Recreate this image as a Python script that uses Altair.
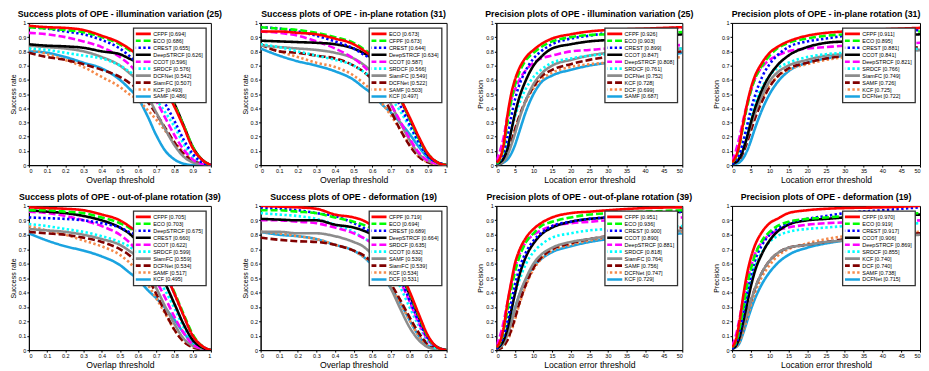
import altair as alt
import pandas as pd

# x sample positions
SX = [0, 0.1, 0.2, 0.3, 0.4, 0.5, 0.55, 0.6, 0.65, 0.7, 0.75, 0.8, 0.85, 0.9, 0.95, 1.0]
PX = [0, 1, 2, 3, 4, 5, 6, 8, 10, 12, 15, 20, 25, 30, 40, 50]

COLORS = ["#FF0000", "#00FF00", "#0000FF", "#000000", "#FF00FF",
          "#00FFFF", "#8C8C8C", "#800000", "#F58A4B", "#1AA3E0"]
DASHES = [[1, 0], [7, 3], [2.4, 2.4], [1, 0], [7, 3],
          [2.4, 2.4], [1, 0], [7, 3], [2.4, 2.4], [1, 0]]

# ---- Panel 1: success, illumination variation
p1_title = "Success plots of OPE - illumination variation (25)"
p1_names = ["CFPF", "ECO", "CREST", "DeepSTRCF", "CCOT", "SRDCF", "DCFNet", "SiamFC", "KCF", "SAMF"]
p1_scores = ["0.694", "0.686", "0.655", "0.626", "0.596", "0.576", "0.542", "0.507", "0.493", "0.486"]
p1_curves = [
    [0.98, 0.97, 0.965, 0.95, 0.91, 0.86, 0.82, 0.77, 0.71, 0.63, 0.53, 0.41, 0.27, 0.12, 0.04, 0.0],
    [0.97, 0.96, 0.95, 0.935, 0.9, 0.85, 0.81, 0.76, 0.70, 0.62, 0.53, 0.42, 0.28, 0.13, 0.04, 0.0],
    [0.97, 0.96, 0.94, 0.92, 0.88, 0.82, 0.77, 0.71, 0.63, 0.54, 0.43, 0.31, 0.18, 0.08, 0.02, 0.0],
    [0.85, 0.84, 0.835, 0.825, 0.80, 0.78, 0.75, 0.72, 0.68, 0.62, 0.54, 0.43, 0.28, 0.13, 0.04, 0.0],
    [0.93, 0.92, 0.90, 0.87, 0.83, 0.76, 0.71, 0.64, 0.55, 0.45, 0.33, 0.21, 0.11, 0.04, 0.01, 0.0],
    [0.82, 0.81, 0.79, 0.77, 0.75, 0.70, 0.66, 0.61, 0.54, 0.46, 0.37, 0.27, 0.15, 0.06, 0.02, 0.0],
    [0.84, 0.83, 0.82, 0.80, 0.76, 0.70, 0.65, 0.59, 0.49, 0.37, 0.25, 0.14, 0.06, 0.02, 0.005, 0.0],
    [0.79, 0.76, 0.74, 0.71, 0.67, 0.62, 0.58, 0.53, 0.45, 0.36, 0.26, 0.16, 0.08, 0.03, 0.01, 0.0],
    [0.82, 0.78, 0.74, 0.69, 0.62, 0.55, 0.50, 0.46, 0.39, 0.32, 0.24, 0.16, 0.09, 0.04, 0.01, 0.0],
    [0.80, 0.79, 0.76, 0.72, 0.68, 0.60, 0.54, 0.47, 0.35, 0.21, 0.10, 0.04, 0.01, 0.0, 0.0, 0.0],
]

# ---- Panel 2: success, in-plane rotation
p2_title = "Success plots of OPE - in-plane rotation (31)"
p2_names = ["ECO", "CFPF", "CREST", "DeepSTRCF", "CCOT", "SRDCF", "SiamFC", "DCFNet", "SAMF", "KCF"]
p2_scores = ["0.673", "0.673", "0.644", "0.634", "0.587", "0.566", "0.549", "0.522", "0.503", "0.497"]
p2_curves = [
    [0.94, 0.94, 0.93, 0.92, 0.89, 0.85, 0.81, 0.76, 0.68, 0.58, 0.47, 0.34, 0.20, 0.08, 0.02, 0.0],
    [0.97, 0.96, 0.95, 0.93, 0.90, 0.86, 0.82, 0.77, 0.69, 0.59, 0.47, 0.33, 0.19, 0.08, 0.02, 0.0],
    [0.97, 0.96, 0.94, 0.91, 0.87, 0.82, 0.78, 0.74, 0.65, 0.54, 0.42, 0.29, 0.16, 0.06, 0.02, 0.0],
    [0.875, 0.87, 0.865, 0.86, 0.85, 0.82, 0.79, 0.75, 0.68, 0.59, 0.47, 0.33, 0.19, 0.07, 0.02, 0.0],
    [0.94, 0.93, 0.91, 0.87, 0.82, 0.75, 0.70, 0.63, 0.54, 0.43, 0.31, 0.19, 0.09, 0.03, 0.01, 0.0],
    [0.85, 0.83, 0.80, 0.77, 0.74, 0.70, 0.66, 0.61, 0.55, 0.47, 0.38, 0.27, 0.15, 0.06, 0.02, 0.0],
    [0.84, 0.83, 0.82, 0.81, 0.79, 0.75, 0.71, 0.65, 0.55, 0.43, 0.30, 0.18, 0.08, 0.03, 0.01, 0.0],
    [0.85, 0.80, 0.79, 0.77, 0.75, 0.70, 0.66, 0.60, 0.50, 0.38, 0.25, 0.14, 0.06, 0.02, 0.005, 0.0],
    [0.85, 0.80, 0.76, 0.72, 0.69, 0.63, 0.58, 0.52, 0.44, 0.35, 0.25, 0.15, 0.06, 0.02, 0.005, 0.0],
    [0.82, 0.77, 0.73, 0.70, 0.66, 0.60, 0.55, 0.50, 0.43, 0.37, 0.30, 0.22, 0.13, 0.05, 0.01, 0.0],
]

# ---- Panel 3: precision, illumination variation
p3_title = "Precision plots of OPE - illumination variation (25)"
p3_names = ["CFPF", "ECO", "CREST", "CCOT", "DeepSTRCF", "SRDCF", "DCFNet", "KCF", "DCF", "SAMF"]
p3_scores = ["0.926", "0.903", "0.899", "0.847", "0.808", "0.761", "0.752", "0.728", "0.699", "0.687"]
p3_curves = [
    [0.02, 0.05, 0.15, 0.35, 0.50, 0.60, 0.67, 0.76, 0.81, 0.85, 0.89, 0.92, 0.94, 0.95, 0.96, 0.97],
    [0.01, 0.04, 0.13, 0.30, 0.45, 0.56, 0.64, 0.74, 0.79, 0.83, 0.87, 0.90, 0.915, 0.92, 0.93, 0.935],
    [0.01, 0.03, 0.09, 0.20, 0.34, 0.46, 0.55, 0.67, 0.75, 0.80, 0.85, 0.89, 0.91, 0.93, 0.95, 0.97],
    [0.01, 0.02, 0.05, 0.12, 0.24, 0.36, 0.46, 0.60, 0.70, 0.76, 0.82, 0.85, 0.87, 0.88, 0.90, 0.92],
    [0.03, 0.10, 0.20, 0.35, 0.46, 0.53, 0.59, 0.67, 0.72, 0.75, 0.77, 0.80, 0.81, 0.82, 0.83, 0.845],
    [0.01, 0.02, 0.06, 0.14, 0.24, 0.34, 0.42, 0.54, 0.62, 0.67, 0.72, 0.75, 0.77, 0.78, 0.80, 0.82],
    [0.0, 0.01, 0.03, 0.07, 0.14, 0.22, 0.31, 0.46, 0.57, 0.64, 0.70, 0.74, 0.77, 0.79, 0.81, 0.82],
    [0.0, 0.01, 0.03, 0.08, 0.16, 0.25, 0.33, 0.46, 0.55, 0.62, 0.67, 0.71, 0.74, 0.76, 0.78, 0.80],
    [0.0, 0.01, 0.03, 0.08, 0.15, 0.24, 0.32, 0.45, 0.54, 0.60, 0.65, 0.69, 0.71, 0.72, 0.74, 0.76],
    [0.0, 0.005, 0.02, 0.04, 0.08, 0.14, 0.22, 0.38, 0.50, 0.58, 0.63, 0.67, 0.70, 0.72, 0.75, 0.79],
]

# ---- Panel 4: precision, in-plane rotation
p4_title = "Precision plots of OPE - in-plane rotation (31)"
p4_names = ["CFPF", "ECO", "CREST", "CCOT", "DeepSTRCF", "SRDCF", "SiamFC", "SAMF", "KCF", "DCFNet"]
p4_scores = ["0.911", "0.895", "0.881", "0.841", "0.821", "0.766", "0.749", "0.726", "0.725", "0.722"]
p4_curves = [
    [0.02, 0.06, 0.15, 0.30, 0.43, 0.54, 0.62, 0.72, 0.79, 0.83, 0.87, 0.91, 0.93, 0.94, 0.955, 0.965],
    [0.02, 0.05, 0.14, 0.28, 0.41, 0.52, 0.60, 0.70, 0.77, 0.82, 0.86, 0.89, 0.91, 0.92, 0.93, 0.94],
    [0.01, 0.03, 0.08, 0.17, 0.28, 0.39, 0.48, 0.62, 0.71, 0.77, 0.83, 0.87, 0.89, 0.91, 0.93, 0.95],
    [0.01, 0.02, 0.05, 0.11, 0.20, 0.30, 0.39, 0.53, 0.63, 0.70, 0.77, 0.83, 0.86, 0.87, 0.90, 0.92],
    [0.03, 0.10, 0.20, 0.32, 0.43, 0.52, 0.60, 0.69, 0.74, 0.77, 0.80, 0.82, 0.83, 0.84, 0.85, 0.86],
    [0.01, 0.03, 0.08, 0.16, 0.26, 0.35, 0.43, 0.55, 0.63, 0.68, 0.72, 0.76, 0.78, 0.79, 0.80, 0.82],
    [0.01, 0.02, 0.05, 0.11, 0.19, 0.28, 0.36, 0.49, 0.59, 0.65, 0.70, 0.74, 0.77, 0.78, 0.80, 0.81],
    [0.01, 0.02, 0.04, 0.09, 0.16, 0.24, 0.32, 0.45, 0.55, 0.62, 0.68, 0.72, 0.75, 0.77, 0.80, 0.83],
    [0.01, 0.02, 0.05, 0.11, 0.19, 0.27, 0.35, 0.47, 0.56, 0.62, 0.67, 0.71, 0.74, 0.76, 0.79, 0.81],
    [0.0, 0.01, 0.02, 0.05, 0.10, 0.17, 0.25, 0.39, 0.50, 0.58, 0.66, 0.72, 0.75, 0.77, 0.79, 0.81],
]

# ---- Panel 5: success, out-of-plane rotation
p5_title = "Success plots of OPE - out-of-plane rotation (39)"
p5_names = ["CFPF", "ECO", "DeepSTRCF", "CREST", "CCOT", "SRDCF", "SiamFC", "DCFNet", "SAMF", "KCF"]
p5_scores = ["0.705", "0.703", "0.675", "0.660", "0.622", "0.599", "0.559", "0.534", "0.517", "0.495"]
p5_curves = [
    [0.99, 0.985, 0.98, 0.97, 0.94, 0.90, 0.86, 0.81, 0.74, 0.65, 0.53, 0.39, 0.24, 0.10, 0.03, 0.0],
    [0.97, 0.97, 0.96, 0.95, 0.92, 0.88, 0.85, 0.80, 0.74, 0.65, 0.54, 0.40, 0.25, 0.11, 0.03, 0.0],
    [0.92, 0.915, 0.91, 0.90, 0.88, 0.85, 0.82, 0.79, 0.73, 0.65, 0.53, 0.39, 0.24, 0.10, 0.03, 0.0],
    [0.97, 0.96, 0.95, 0.93, 0.90, 0.85, 0.81, 0.75, 0.68, 0.58, 0.46, 0.32, 0.18, 0.07, 0.02, 0.0],
    [0.96, 0.95, 0.93, 0.90, 0.86, 0.80, 0.75, 0.68, 0.59, 0.48, 0.36, 0.23, 0.12, 0.04, 0.01, 0.0],
    [0.875, 0.86, 0.84, 0.82, 0.79, 0.75, 0.72, 0.67, 0.60, 0.51, 0.41, 0.29, 0.16, 0.06, 0.02, 0.0],
    [0.84, 0.83, 0.82, 0.80, 0.77, 0.73, 0.69, 0.64, 0.55, 0.43, 0.30, 0.18, 0.08, 0.03, 0.01, 0.0],
    [0.82, 0.81, 0.80, 0.78, 0.75, 0.70, 0.66, 0.60, 0.51, 0.39, 0.26, 0.14, 0.06, 0.02, 0.005, 0.0],
    [0.86, 0.83, 0.80, 0.76, 0.72, 0.66, 0.61, 0.54, 0.46, 0.36, 0.25, 0.14, 0.06, 0.02, 0.005, 0.0],
    [0.81, 0.76, 0.72, 0.69, 0.65, 0.59, 0.54, 0.49, 0.42, 0.36, 0.29, 0.21, 0.12, 0.05, 0.01, 0.0],
]

# ---- Panel 6: success, deformation
p6_title = "Success plots of OPE - deformation (19)"
p6_names = ["CFPF", "ECO", "CREST", "DeepSTRCF", "SRDCF", "CCOT", "SAMF", "SiamFC", "KCF", "DCF"]
p6_scores = ["0.719", "0.694", "0.689", "0.664", "0.635", "0.632", "0.539", "0.539", "0.534", "0.531"]
p6_curves = [
    [1.0, 0.995, 0.99, 0.98, 0.94, 0.92, 0.90, 0.86, 0.79, 0.68, 0.55, 0.41, 0.25, 0.10, 0.02, 0.0],
    [0.97, 0.97, 0.96, 0.95, 0.92, 0.89, 0.87, 0.84, 0.77, 0.67, 0.54, 0.40, 0.24, 0.09, 0.02, 0.0],
    [0.99, 0.98, 0.97, 0.95, 0.93, 0.88, 0.85, 0.81, 0.74, 0.63, 0.50, 0.35, 0.20, 0.08, 0.02, 0.0],
    [0.91, 0.905, 0.90, 0.90, 0.87, 0.85, 0.83, 0.80, 0.74, 0.65, 0.53, 0.39, 0.23, 0.09, 0.02, 0.0],
    [0.90, 0.90, 0.89, 0.88, 0.85, 0.81, 0.78, 0.74, 0.68, 0.59, 0.48, 0.34, 0.19, 0.07, 0.02, 0.0],
    [0.95, 0.94, 0.93, 0.91, 0.87, 0.82, 0.78, 0.74, 0.66, 0.56, 0.44, 0.30, 0.17, 0.06, 0.01, 0.0],
    [0.82, 0.82, 0.81, 0.81, 0.79, 0.75, 0.72, 0.66, 0.56, 0.43, 0.29, 0.16, 0.07, 0.02, 0.005, 0.0],
    [0.78, 0.765, 0.755, 0.75, 0.73, 0.69, 0.66, 0.61, 0.55, 0.46, 0.35, 0.23, 0.12, 0.04, 0.01, 0.0],
    [0.82, 0.81, 0.79, 0.77, 0.73, 0.69, 0.65, 0.60, 0.53, 0.44, 0.33, 0.21, 0.10, 0.03, 0.01, 0.0],
    [0.82, 0.80, 0.79, 0.77, 0.73, 0.69, 0.65, 0.59, 0.52, 0.43, 0.33, 0.21, 0.10, 0.03, 0.01, 0.0],
]

# ---- Panel 7: precision, out-of-plane rotation
p7_title = "Precision plots of OPE - out-of-plane rotation (39)"
p7_names = ["CFPF", "ECO", "CREST", "CCOT", "DeepSTRCF", "SRDCF", "SiamFC", "SAMF", "DCFNet", "KCF"]
p7_scores = ["0.951", "0.936", "0.900", "0.890", "0.881", "0.818", "0.764", "0.756", "0.747", "0.729"]
p7_curves = [
    [0.02, 0.06, 0.16, 0.33, 0.47, 0.60, 0.68, 0.78, 0.84, 0.88, 0.92, 0.95, 0.96, 0.97, 0.985, 0.99],
    [0.02, 0.05, 0.14, 0.28, 0.42, 0.54, 0.63, 0.75, 0.81, 0.86, 0.89, 0.92, 0.94, 0.95, 0.96, 0.97],
    [0.01, 0.04, 0.10, 0.20, 0.33, 0.45, 0.55, 0.68, 0.76, 0.81, 0.86, 0.89, 0.91, 0.92, 0.94, 0.96],
    [0.01, 0.03, 0.07, 0.15, 0.27, 0.39, 0.50, 0.65, 0.74, 0.80, 0.85, 0.89, 0.91, 0.92, 0.94, 0.96],
    [0.03, 0.10, 0.20, 0.33, 0.46, 0.57, 0.65, 0.75, 0.80, 0.83, 0.86, 0.88, 0.89, 0.90, 0.91, 0.92],
    [0.01, 0.04, 0.10, 0.19, 0.29, 0.39, 0.47, 0.60, 0.68, 0.73, 0.78, 0.81, 0.83, 0.84, 0.85, 0.86],
    [0.01, 0.02, 0.05, 0.11, 0.19, 0.28, 0.37, 0.50, 0.60, 0.66, 0.71, 0.75, 0.77, 0.79, 0.81, 0.83],
    [0.0, 0.01, 0.03, 0.07, 0.14, 0.22, 0.31, 0.46, 0.57, 0.64, 0.70, 0.74, 0.77, 0.79, 0.82, 0.85],
    [0.0, 0.01, 0.03, 0.07, 0.13, 0.21, 0.30, 0.45, 0.56, 0.63, 0.69, 0.73, 0.76, 0.78, 0.80, 0.82],
    [0.01, 0.02, 0.05, 0.12, 0.20, 0.29, 0.37, 0.49, 0.58, 0.63, 0.68, 0.72, 0.75, 0.77, 0.79, 0.81],
]

# ---- Panel 8: precision, deformation
p8_title = "Precision plots of OPE - deformation (19)"
p8_names = ["CFPF", "ECO", "CREST", "CCOT", "DeepSTRCF", "SRDCF", "KCF", "DCF", "SAMF", "DCFNet"]
p8_scores = ["0.970", "0.919", "0.917", "0.906", "0.869", "0.855", "0.740", "0.740", "0.738", "0.715"]
p8_curves = [
    [0.02, 0.07, 0.20, 0.38, 0.53, 0.64, 0.72, 0.82, 0.88, 0.91, 0.95, 0.97, 0.98, 0.985, 0.99, 1.0],
    [0.02, 0.05, 0.15, 0.30, 0.45, 0.56, 0.65, 0.76, 0.82, 0.86, 0.89, 0.91, 0.92, 0.93, 0.94, 0.95],
    [0.01, 0.04, 0.12, 0.25, 0.39, 0.51, 0.61, 0.73, 0.80, 0.84, 0.88, 0.91, 0.93, 0.95, 0.97, 0.99],
    [0.01, 0.03, 0.09, 0.20, 0.32, 0.44, 0.54, 0.67, 0.76, 0.82, 0.87, 0.90, 0.91, 0.92, 0.93, 0.94],
    [0.03, 0.10, 0.22, 0.36, 0.48, 0.58, 0.66, 0.75, 0.80, 0.83, 0.85, 0.87, 0.88, 0.885, 0.89, 0.90],
    [0.02, 0.06, 0.14, 0.26, 0.38, 0.48, 0.57, 0.68, 0.75, 0.79, 0.82, 0.84, 0.85, 0.86, 0.87, 0.88],
    [0.01, 0.03, 0.08, 0.16, 0.25, 0.34, 0.42, 0.54, 0.62, 0.67, 0.71, 0.73, 0.75, 0.76, 0.78, 0.80],
    [0.01, 0.03, 0.08, 0.16, 0.25, 0.34, 0.42, 0.54, 0.62, 0.67, 0.71, 0.73, 0.75, 0.77, 0.79, 0.81],
    [0.01, 0.02, 0.06, 0.13, 0.22, 0.31, 0.39, 0.51, 0.59, 0.65, 0.70, 0.74, 0.77, 0.79, 0.81, 0.82],
    [0.01, 0.02, 0.05, 0.12, 0.20, 0.28, 0.35, 0.46, 0.54, 0.60, 0.66, 0.71, 0.74, 0.76, 0.78, 0.81],
]

FONT = "Liberation Sans"


def panel(title, names, scores, curves, kind, width, height):
    xs = SX if kind == "success" else PX
    labels = [f"{n} [{s}]" for n, s in zip(names, scores)]
    rows = []
    for rank in reversed(range(len(names))):
        for x, y in zip(xs, curves[rank]):
            rows.append({"x": x, "y": y, "label": labels[rank], "rank": rank})
    df = pd.DataFrame(rows)
    if kind == "success":
        xdom, xvals, xtitle, ytitle = [0, 1], [i / 10 for i in range(11)], "Overlap threshold", "Success rate"
    else:
        xdom, xvals, xtitle, ytitle = [0, 50], list(range(0, 51, 5)), "Location error threshold", "Precision"
    leg = alt.Legend(title=None)
    return alt.Chart(df, title=alt.Title(title)).mark_line(
        clip=True, strokeWidth=2.6, interpolate="monotone"
    ).encode(
        x=alt.X("x:Q", scale=alt.Scale(domain=xdom, nice=False, zero=False),
                axis=alt.Axis(title=xtitle, values=xvals, format="~g")),
        y=alt.Y("y:Q", scale=alt.Scale(domain=[0, 1], nice=False),
                axis=alt.Axis(title=ytitle, values=[i / 10 for i in range(11)], format="~g")),
        color=alt.Color("label:N", scale=alt.Scale(domain=labels, range=COLORS), legend=leg),
        strokeDash=alt.StrokeDash("label:N", scale=alt.Scale(domain=labels, range=DASHES), legend=leg),
        order=alt.Order("x:Q"),
    ).properties(width=width, height=height)


W = [183, 187, 187, 189]
H1, H2 = 143, 145
panels = [
    panel(p1_title, p1_names, p1_scores, p1_curves, "success", W[0], H1),
    panel(p2_title, p2_names, p2_scores, p2_curves, "success", W[1], H1),
    panel(p3_title, p3_names, p3_scores, p3_curves, "precision", W[2], H1),
    panel(p4_title, p4_names, p4_scores, p4_curves, "precision", W[3], H1),
    panel(p5_title, p5_names, p5_scores, p5_curves, "success", W[0], H2),
    panel(p6_title, p6_names, p6_scores, p6_curves, "success", W[1], H2),
    panel(p7_title, p7_names, p7_scores, p7_curves, "precision", W[2], H2),
    panel(p8_title, p8_names, p8_scores, p8_curves, "precision", W[3], H2),
]

chart = alt.concat(
    *panels, columns=4, spacing=alt.RowColnumber(row=41, column=50), bounds="flush"
).resolve_scale(
    color="independent", strokeDash="independent", x="independent", y="independent"
).resolve_legend(
    color="independent", strokeDash="independent"
).properties(
    padding=0
).configure_view(
    stroke="black", strokeWidth=1
).configure_axis(
    labelFont=FONT, labelFontSize=5.5, labelColor="black",
    titleFont=FONT, titleFontWeight="normal", titleColor="black",
    tickSize=2, tickColor="black", labelPadding=1, titlePadding=2,
    domainColor="black", grid=False,
).configure_axisX(
    titleFontSize=8.7
).configure_axisY(
    titleFontSize=7
).configure_title(
    font=FONT, fontSize=8.8, fontWeight="bold", offset=2, color="black"
).configure_legend(
    orient="top-right", offset=5, padding=2.5, fillColor="white", strokeColor="#333333",
    strokeWidth=1.3, clipHeight=7,
    labelFont=FONT, labelFontSize=5.5, labelColor="black", labelLimit=200,
    symbolType="M-4.3,0H4.3", symbolSize=16, symbolStrokeWidth=2.6,
    symbolFillColor="transparent", rowPadding=0, labelOffset=7.5, symbolOffset=3,
)

chart.save("out.html", embed_options={"renderer": "svg", "actions": False})
